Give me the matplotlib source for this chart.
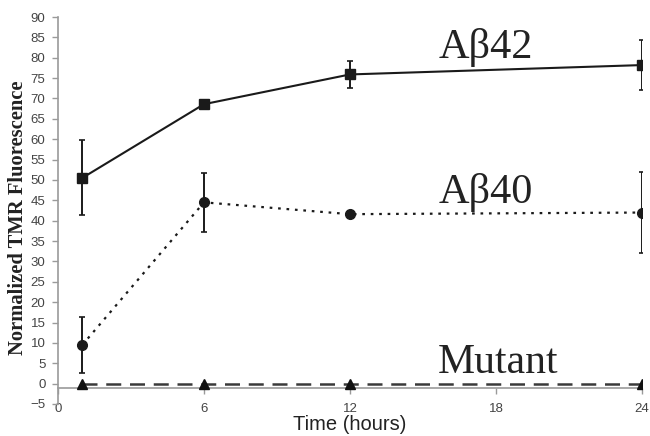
import matplotlib
matplotlib.use("Agg")
import matplotlib.pyplot as plt

time = [1, 6, 12, 24]
ab42 = [50.5, 68.6, 75.9, 78.2]
ab42_err = [9.2, 1.0, 3.3, 6.2]
ab40 = [9.5, 44.5, 41.6, 42.0]
ab40_err = [6.8, 7.2, 0.8, 10.0]
mutant = [0.0, 0.0, 0.0, 0.0]
mutant_err = [0.2, 0.2, 0.2, 0.2]
xticks = [0, 6, 12, 18, 24]
yticks = list(range(-5, 91, 5))

fig = plt.figure(figsize=(6.5, 4.36), dpi=100)
ax = fig.add_axes([0.0892, 0.0734, 0.8985, 0.8876])

axis_grey = "#9a9a9a"
ax.errorbar(time, ab42, yerr=ab42_err, color="#1a1a1a", lw=1.5, marker="s", ms=6.5,
            capsize=2.5, elinewidth=1.4, capthick=1.2, zorder=3)
ax.errorbar(time, ab40, yerr=ab40_err, color="#1a1a1a", lw=1.6, ls=(0, (1.2, 2.6)), marker="o", ms=7,
            capsize=2.5, elinewidth=1.4, capthick=1.2, zorder=3)
ax.errorbar(time, mutant, yerr=mutant_err, color="#3a3a3a", lw=1.8, ls=(0, (6, 3.5)), marker="^", ms=6.5,
            mfc="#111111", mec="#111111", capsize=0, elinewidth=1.0, zorder=3)

ax.set_xlim(0, 24)
ax.set_ylim(-5, 90)
ax.set_xticks(xticks)
ax.set_yticks(yticks)

for s in ["top", "right"]:
    ax.spines[s].set_visible(False)
ax.spines["left"].set_color(axis_grey)
ax.spines["bottom"].set_color(axis_grey)
ax.spines["left"].set_linewidth(1.2)
ax.spines["bottom"].set_linewidth(1.2)
ax.spines["bottom"].set_position(("data", -1))

ax.tick_params(axis="y", direction="out", length=4, width=1, color=axis_grey,
               labelsize=9.5, labelcolor="#444444", pad=5)
ax.tick_params(axis="x", direction="out", length=4, width=1, color=axis_grey,
               labelsize=9.5, labelcolor="#444444", pad=7)
for lab in ax.get_xticklabels() + ax.get_yticklabels():
    lab.set_fontfamily("Liberation Sans")

ax.set_xlabel("Time (hours)", fontsize=14.5, family="Liberation Sans", color="#222222", labelpad=0)
ax.set_ylabel("Normalized TMR Fluorescence", fontsize=14.8, family="Liberation Serif",
              fontweight="bold", color="#222222")
ax.yaxis.set_label_coords(-0.052, 0.482)

ax.text(17.6, 79.9, "A\u03b242", fontsize=30.5, family="Liberation Serif", color="#222222",
        ha="center", va="baseline")
ax.text(17.6, 44.3, "A\u03b240", fontsize=30.5, family="Liberation Serif", color="#222222",
        ha="center", va="baseline")
ax.text(18.1, 2.6, "Mutant", fontsize=30, family="Liberation Serif", color="#222222",
        ha="center", va="baseline")

fig.savefig("out.png", dpi=100)
